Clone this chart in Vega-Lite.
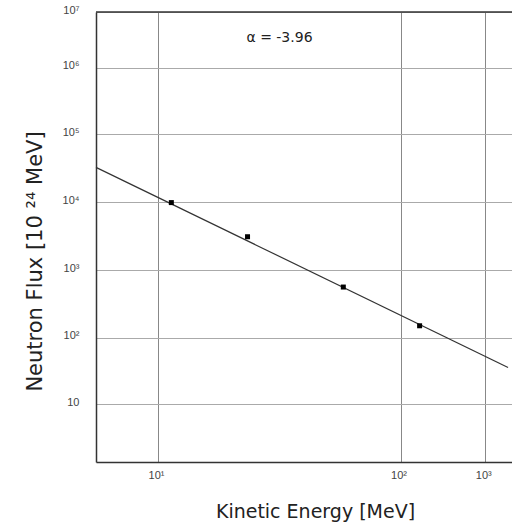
{
  "$schema": "https://vega.github.io/schema/vega-lite/v6.json",
  "width": 416,
  "height": 450,
  "autosize": {"type": "none"},
  "padding": {"left": 96, "top": 12, "right": 0, "bottom": 63},
  "background": "white",
  "config": {"view": {"stroke": null}},
  "datasets": {
    "points": [
      {"energy": 11.35, "flux": 9900},
      {"energy": 23.4, "flux": 3100},
      {"energy": 58.1, "flux": 560},
      {"energy": 168, "flux": 150}
    ],
    "fit": [
      {"energy": 5.55, "flux": 32500},
      {"energy": 1853, "flux": 35.6}
    ],
    "note": [
      {"energy": 31.7, "flux": 3370000, "label": "α = -3.96"}
    ],
    "border": [
      {"flux": 10000000}
    ]
  },
  "layer": [
    {
      "data": {"name": "fit"},
      "mark": {"type": "line", "color": "#333333", "strokeWidth": 1.2},
      "encoding": {
        "x": {
          "field": "energy", "type": "quantitative", "title": "Kinetic Energy [MeV]",
          "scale": {"type": "log", "domain": [5.55, 10, 100, 1000, 2061], "range": [0, 62, 304.5, 389.3, 416], "nice": false},
          "axis": {
            "values": [10, 100, 1000],
            "labelExpr": "datum.value == 10 ? '10¹' : datum.value == 100 ? '10²' : '10³'",
            "grid": true, "gridColor": "#888888", "gridWidth": 1,
            "domainColor": "#333333", "domainWidth": 1.5,
            "ticks": false,
            "labelFont": "Liberation Sans", "labelFontSize": 11, "labelColor": "#444444", "labelPadding": 7, "labelOffset": -2,
            "titleFont": "DejaVu Sans", "titleFontSize": 19, "titleFontWeight": "normal", "titleColor": "#222222",
            "titleX": 219, "titleY": 55, "titleAlign": "center", "titleBaseline": "alphabetic"
          }
        },
        "y": {
          "field": "flux", "type": "quantitative", "title": "Neutron Flux [10 ²⁴ MeV]",
          "scale": {"type": "log", "domain": [1.36, 10, 100, 1000, 10000, 100000, 1000000, 10000000], "range": [450, 392, 325.7, 258, 190.3, 122, 55.7, 0], "nice": false},
          "axis": {
            "values": [10, 100, 1000, 10000, 100000, 1000000, 10000000],
            "labelExpr": "datum.value == 10 ? '10' : datum.value == 100 ? '10²' : datum.value == 1000 ? '10³' : datum.value == 10000 ? '10⁴' : datum.value == 100000 ? '10⁵' : datum.value == 1000000 ? '10⁶' : '10⁷'",
            "grid": true, "gridColor": "#aaaaaa", "gridWidth": 1,
            "domainColor": "#333333", "domainWidth": 1.5,
            "ticks": false,
            "labelFont": "Liberation Sans", "labelFontSize": 11, "labelColor": "#444444", "labelPadding": 17, "labelOffset": -2,
            "titleFont": "DejaVu Sans", "titleFontSize": 21, "titleFontWeight": "normal", "titleColor": "#222222",
            "titleX": -55, "titleY": 249, "titleAngle": 270, "titleAlign": "center", "titleBaseline": "alphabetic"
          }
        }
      }
    },
    {
      "data": {"name": "points"},
      "mark": {"type": "square", "color": "#000000", "size": 25, "opacity": 1},
      "encoding": {
        "x": {"field": "energy", "type": "quantitative", "title": "Kinetic Energy [MeV]"},
        "y": {"field": "flux", "type": "quantitative", "title": "Neutron Flux [10 ²⁴ MeV]"}
      }
    },
    {
      "data": {"name": "border"},
      "mark": {"type": "rule", "color": "#333333", "strokeWidth": 1.5},
      "encoding": {
        "y": {"field": "flux", "type": "quantitative", "title": "Neutron Flux [10 ²⁴ MeV]"}
      }
    },
    {
      "data": {"name": "note"},
      "mark": {"type": "text", "font": "DejaVu Sans", "fontSize": 14, "color": "#222222", "align": "center", "baseline": "middle"},
      "encoding": {
        "x": {"field": "energy", "type": "quantitative", "title": "Kinetic Energy [MeV]"},
        "y": {"field": "flux", "type": "quantitative", "title": "Neutron Flux [10 ²⁴ MeV]"},
        "text": {"field": "label"}
      }
    }
  ]
}
